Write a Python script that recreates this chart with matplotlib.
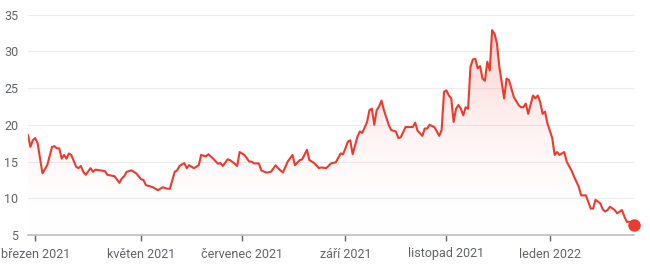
import numpy as np
import matplotlib
matplotlib.use("Agg")
import matplotlib.pyplot as plt
from matplotlib.colors import LinearSegmentedColormap

# trading days counted from 1 March 2021, closing values
days = [-3, -2, -1, 0, 1, 3, 5, 7, 8, 9, 10, 11, 12, 13, 14, 15, 17, 18, 19, 20,
        21, 23, 24, 25, 27, 29, 30, 33, 35, 36, 37, 38, 40, 42, 44, 45, 46, 49, 51, 53,
        55, 56, 58, 59, 60, 62, 63, 64, 66, 68, 69, 71, 72, 74, 76, 77, 78, 80, 81, 83,
        84, 85, 87, 89, 90, 91, 93, 94, 96, 98, 100, 101, 103, 105, 107, 108, 110, 111, 113, 114,
        116, 118, 119, 121, 123, 125, 127, 128, 129, 130, 131, 132, 134, 135, 136, 138, 139, 140, 141, 142,
        143, 144, 145, 147, 148, 150, 151, 152, 154, 155, 157, 158, 159, 161, 162, 163, 164, 166, 167, 168,
        169, 170, 171, 172, 173, 174, 175, 176, 177, 178, 179, 180, 181, 182, 183, 184, 185, 186, 187, 188,
        189, 190, 191, 192, 193, 195, 196, 197, 199, 201, 202, 203, 204, 205, 207, 208, 209, 210, 211, 212,
        213, 215, 216, 217, 218, 220, 221, 223, 224, 226, 227, 229, 230, 231, 232, 233, 235, 236, 237, 238,
        239, 241, 242, 244, 245, 246, 247, 249]
values = [18.6, 17.0, 17.9, 18.2, 17.5, 13.4, 14.5, 17.0, 17.1, 16.8, 16.8, 15.4, 15.9, 15.4, 16.1, 15.9, 14.3, 14.1, 14.4, 13.6,
          13.2, 14.1, 13.6, 13.9, 13.8, 13.7, 13.2, 13.0, 12.1, 12.7, 13.0, 13.6, 13.8, 13.4, 12.6, 12.5, 11.8, 11.5, 11.1, 11.5,
          11.3, 11.3, 13.6, 13.8, 14.4, 14.8, 14.1, 14.5, 14.1, 14.5, 15.9, 15.7, 16.0, 15.4, 14.7, 14.8, 14.4, 15.3, 15.2, 14.7,
          14.4, 16.3, 15.9, 15.0, 15.0, 14.75, 14.75, 13.8, 13.5, 13.6, 14.5, 14.1, 13.5, 15.0, 15.9, 14.5, 15.2, 15.3, 16.6, 15.2,
          14.8, 14.1, 14.2, 14.1, 14.75, 14.9, 16.1, 16.0, 16.8, 17.7, 17.9, 16.0, 18.4, 19.1, 18.9, 20.4, 22.0, 22.2, 20.0, 22.0,
          22.5, 23.3, 22.0, 20.0, 19.3, 19.1, 18.2, 18.3, 19.7, 19.7, 19.7, 20.3, 19.2, 18.5, 19.5, 19.5, 20.0, 19.7, 19.1, 18.5,
          19.3, 24.5, 24.7, 24.0, 23.6, 20.4, 22.2, 22.7, 22.2, 21.3, 22.4, 22.2, 27.9, 28.9, 29.0, 27.7, 28.0, 26.3, 26.0, 28.6,
          27.4, 32.9, 32.4, 31.1, 27.9, 23.6, 26.3, 26.1, 23.8, 22.7, 22.4, 22.4, 22.9, 21.5, 24.0, 23.6, 24.0, 23.1, 21.5, 21.8,
          20.2, 18.2, 15.9, 16.3, 15.9, 16.3, 15.0, 13.8, 13.0, 11.6, 10.4, 10.4, 9.5, 8.6, 8.6, 9.8, 9.3, 8.5, 8.2, 8.4,
          8.85, 8.4, 7.95, 8.4, 7.5, 6.8, 6.8, 6.3]

tick_days = [0, 44, 86, 129, 171, 214]
tick_labels = ["březen 2021", "květen 2021", "červenec 2021", "září 2021", "listopad 2021", "leden 2022"]
y_ticks = [5, 10, 15, 20, 25, 30, 35]

red = "#ea3b2e"
text_gray = "#5f6368"

plt.rcParams["font.family"] = ["Roboto", "DejaVu Sans"]

fig = plt.figure(figsize=(6.5, 2.72), dpi=100)
ax = fig.add_axes([28 / 650, 37 / 272, 606 / 650, 220.3 / 272])

ax.set_xlim(-3, 249)
ax.set_ylim(5, 35)

# gradient fill under the line
poly = ax.fill_between(days, values, 5, color="none", linewidth=0)
grad_cmap = LinearSegmentedColormap.from_list(
    "fade", [(1, 1, 1, 0), (0.93, 0.26, 0.2, 0.28)])
grad = np.linspace(0, 1, 256).reshape(-1, 1)
img = ax.imshow(grad, cmap=grad_cmap, aspect="auto", origin="lower",
                extent=[-3, 249, 5, 34], zorder=1, interpolation="bilinear")
img.set_clip_path(poly.get_paths()[0], transform=ax.transData)

ax.plot(days, values, color=red, linewidth=1.5, zorder=3, solid_joinstyle="round")
ax.plot(days[-1], values[-1], "o", color=red, markersize=8, zorder=4, clip_on=False)

ax.set_yticks(y_ticks)
ax.set_xticks(tick_days)
ax.set_xticklabels(tick_labels)
ax.tick_params(axis="y", length=0, pad=7, labelsize=9, labelcolor=text_gray)
ax.tick_params(axis="x", length=4, width=1, color="#5f6368", pad=5,
               labelsize=9, labelcolor=text_gray)

ax.grid(axis="y", color="#ececec", linewidth=0.8)
ax.set_axisbelow(True)
for side in ["top", "right", "left"]:
    ax.spines[side].set_visible(False)
ax.spines["bottom"].set_color("#bdbdbd")
ax.spines["bottom"].set_linewidth(1.2)

fig.savefig("out.png", dpi=100, facecolor="white")
